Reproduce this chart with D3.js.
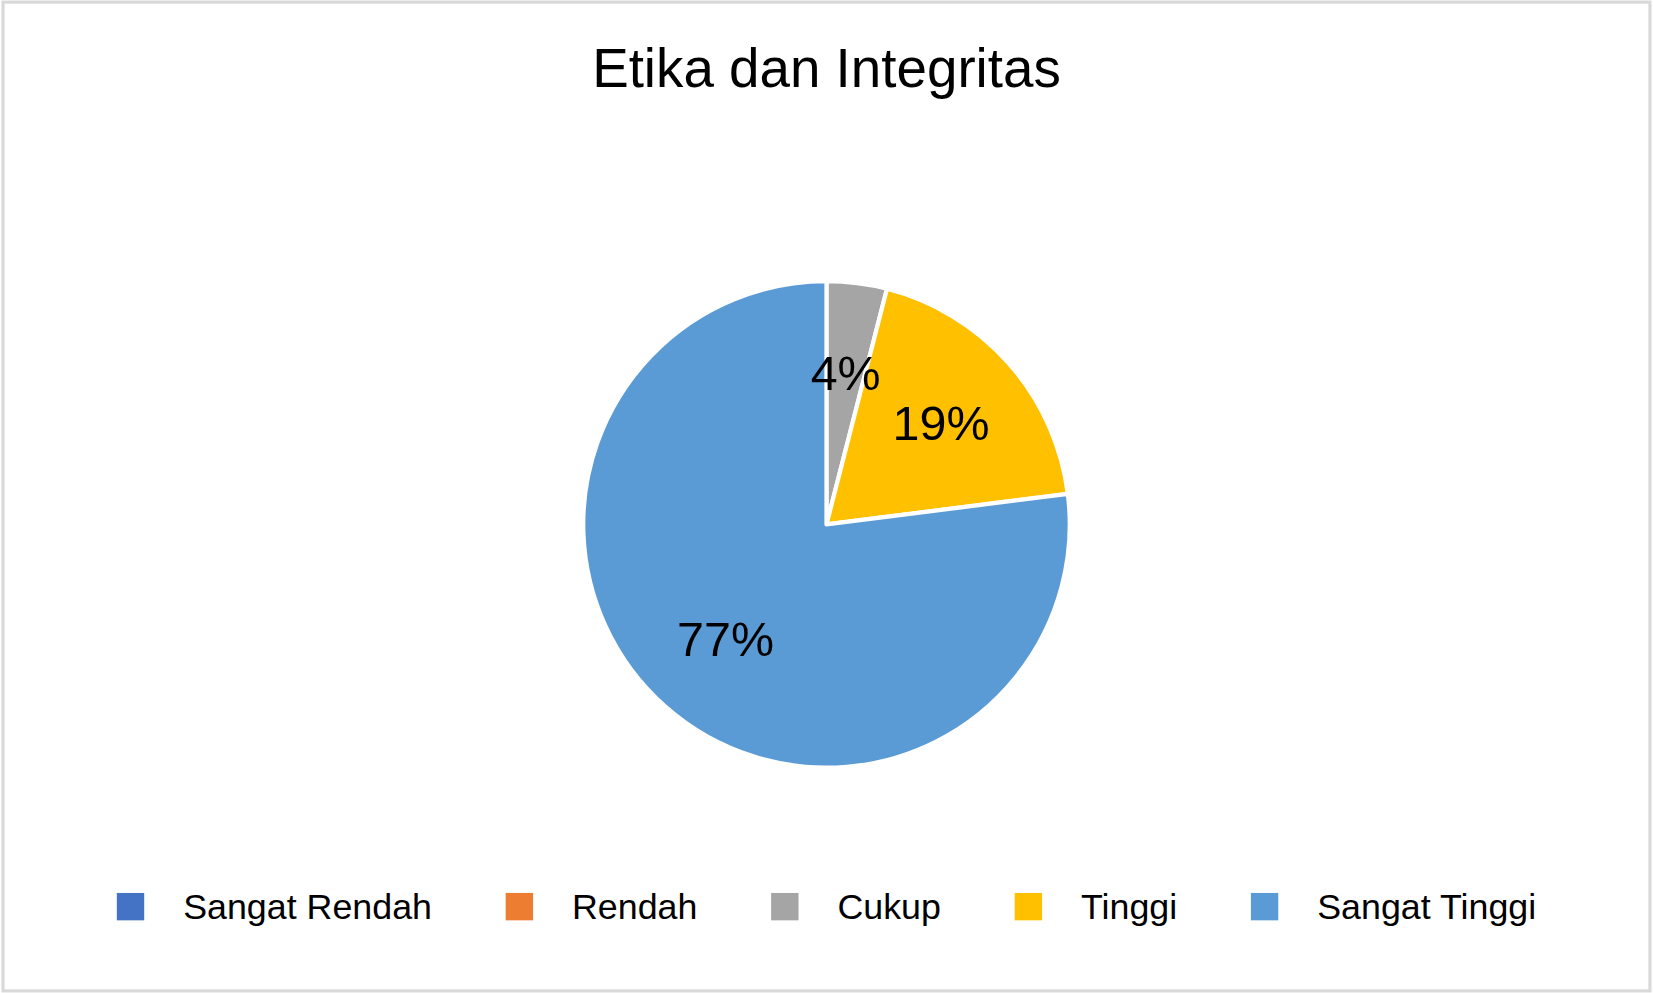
<!DOCTYPE html>
<html><head><meta charset="utf-8">
<script src="https://cdn.jsdelivr.net/npm/d3@7"></script>
<style>body{margin:0;background:#fff}svg{display:block;font-family:"Liberation Sans",Arial,sans-serif}</style>
</head><body>
<svg id="chart" width="1653" height="993" viewBox="0 0 1568 943"></svg>
<script>
// chart data
let categories = ["Sangat Rendah", "Rendah", "Cukup", "Tinggi", "Sangat Tinggi"];
let values = [0, 0, 4, 19, 77];
let colors = ["#4472c4", "#ed7d31", "#a5a5a5", "#ffc000", "#5b9bd5"];
let title = "Etika dan Integritas";

let svg = d3.select("#chart");
svg.append("rect").attr("x", 2).attr("y", 2).attr("width", 1564).attr("height", 939)
  .attr("fill", "#fff").attr("stroke", "#d9d9d9").attr("stroke-width", 3);

svg.append("text").attr("x", 784).attr("y", 83).attr("text-anchor", "middle")
  .attr("font-size", 52).attr("fill", "#000").text(title);

let data = categories.map((c, i) => ({name: c, value: values[i], color: colors[i]}));
let pie = d3.pie().sort(null).value(d => d.value);
let arcs = pie(data);
let arc = d3.arc().innerRadius(0).outerRadius(231);
let labelArc = d3.arc().innerRadius(145).outerRadius(145);

let g = svg.append("g").attr("transform", "translate(784,498)");
g.selectAll("path").data(arcs.filter(d => d.data.value > 0)).enter()
  .append("path").attr("d", arc).attr("fill", d => d.data.color)
  .attr("stroke", "#fff").attr("stroke-width", 4).attr("stroke-linejoin", "round");

g.selectAll("text.lbl").data(arcs.filter(d => d.data.value > 0)).enter()
  .append("text").attr("class", "lbl")
  .attr("transform", d => "translate(" + labelArc.centroid(d) + ")")
  .attr("text-anchor", "middle").attr("dy", "0.35em")
  .attr("font-size", 46).attr("fill", "#000")
  .text(d => d.data.value + "%");

// legend, flowed by text width and centred
let legend = svg.append("g");
let items = legend.selectAll("g").data(data).enter().append("g");
items.append("rect").attr("width", 26).attr("height", 26).attr("y", -13).attr("fill", d => d.color);
items.append("text").attr("x", 63).attr("dy", "0.35em").attr("font-size", 34).attr("fill", "#000").text(d => d.name);
let x = 0, gap = 70;
items.each(function() {
  let w = 63 + d3.select(this).select("text").node().getComputedTextLength();
  d3.select(this).attr("transform", "translate(" + x + ",0)");
  x += w + gap;
});
let total = x - gap;
legend.attr("transform", "translate(" + (784 - total / 2) + ",861)");
</script>
</body></html>
